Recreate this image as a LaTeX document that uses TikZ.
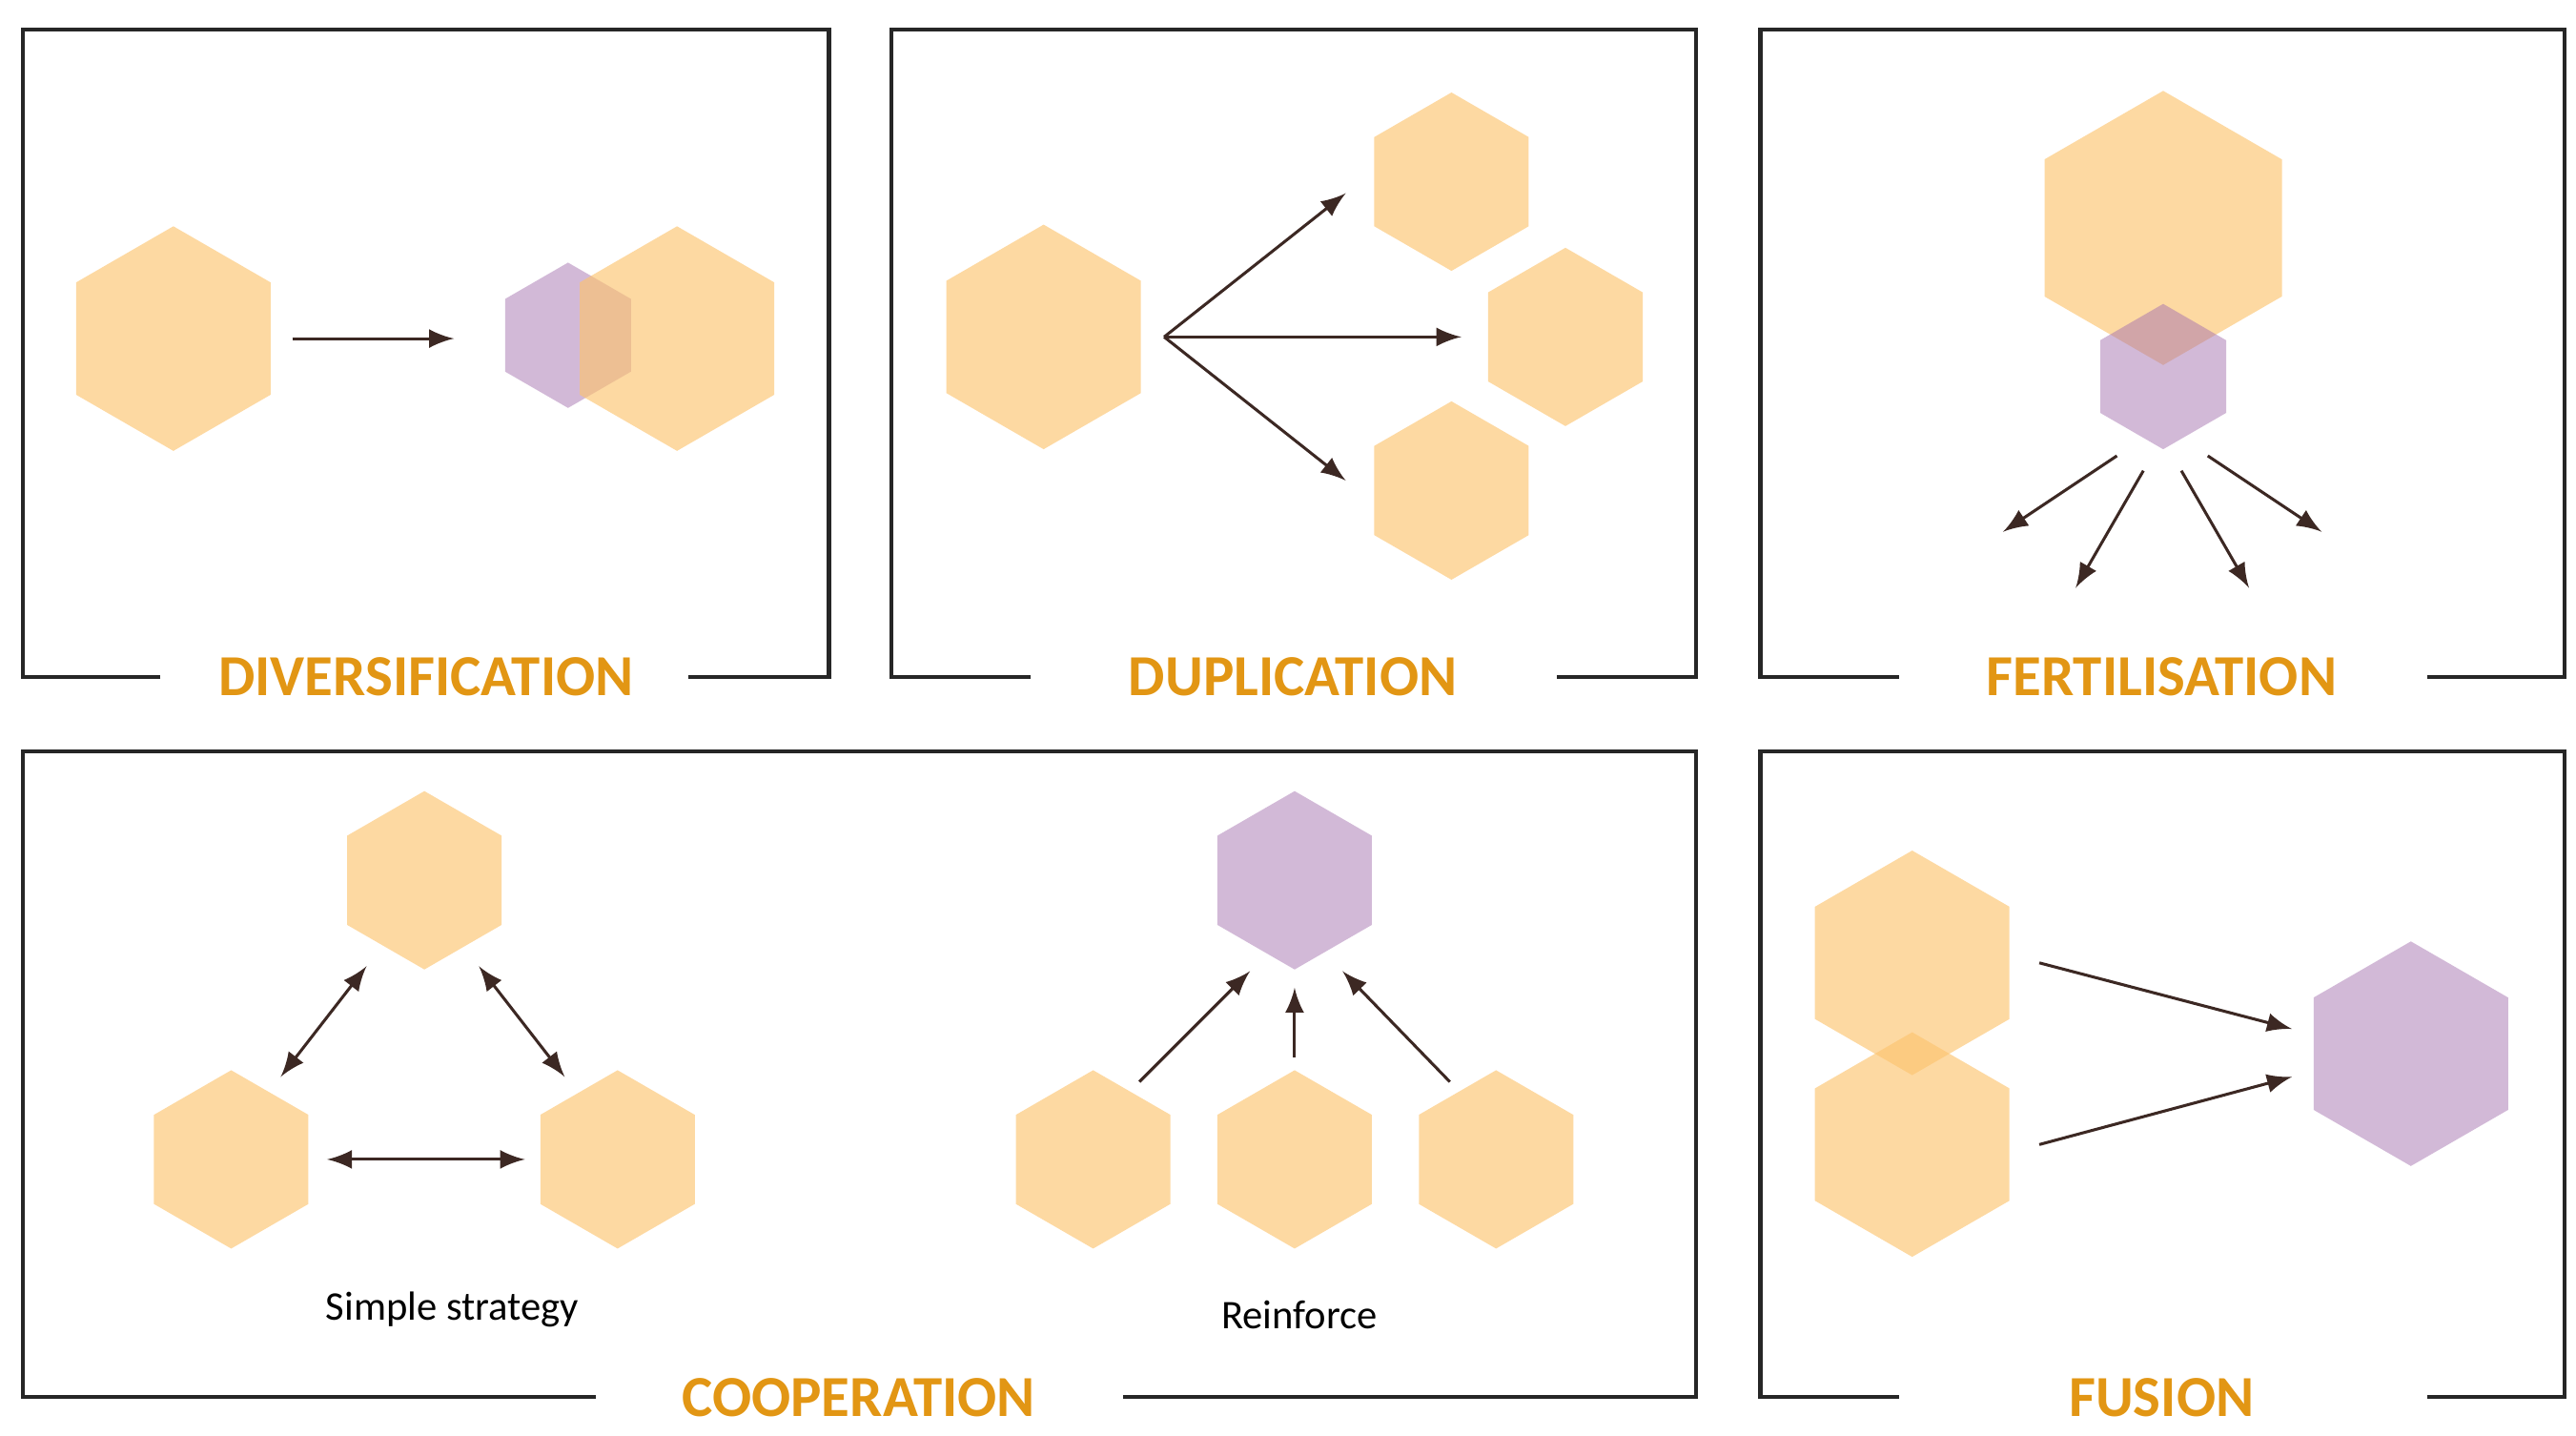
\documentclass[tikz,border=0pt]{standalone}
\usepackage{fontspec}
\setmainfont{Carlito}
\usetikzlibrary{shapes.geometric}
\definecolor{hexorange}{RGB}{252,196,112}
\definecolor{hexpurple}{RGB}{165,115,175}
\definecolor{titleorange}{RGB}{226,150,20}
\definecolor{arrowbrown}{RGB}{60,40,35}

\begin{document}
\begin{tikzpicture}[x=0.01cm, y=-0.01cm,
	hex/.style={regular polygon, regular polygon sides=6, shape border rotate=30, inner sep=0pt, draw=none, minimum size=#1*0.01cm},
	org/.style={hex=#1, fill=hexorange, fill opacity=0.65},
	prp/.style={hex=#1, fill=hexpurple, fill opacity=0.5},
	link/.style={-latex, draw=arrowbrown, line width=0.5pt},
	both/.style={latex-latex, draw=arrowbrown, line width=0.5pt},
	frame/.style={draw=black!85, line width=0.7pt},
	title/.style={text=titleorange, font=\bfseries\fontsize{10}{10}\selectfont},
	caption/.style={font=\fontsize{7}{8}\selectfont}
	]
	\useasboundingbox (0,0) rectangle (1560,869);

	% frames with a gap for the title
	\foreach \xa/\xb/\ya/\yb/\ga/\gb in {14/502/18/410/97/417, 540/1027/18/410/624/943, 1066/1553/18/410/1150/1470, 14/1027/455/846/361/680, 1066/1553/455/846/1150/1470}
		\draw [frame] (\ga,\yb) -- (\xa,\yb) -- (\xa,\ya) -- (\xb,\ya) -- (\xb,\yb) -- (\gb,\yb);

	\node (tdiv) [title] at (258,410) {DIVERSIFICATION};
	\node (tdup) [title] at (783,410) {DUPLICATION};
	\node (tfer) [title] at (1309,410) {FERTILISATION};
	\node (tcoop) [title] at (520,846) {COOPERATION};
	\node (tfus) [title] at (1309,846) {FUSION};

	% diversification
	\node (divsrc) [org=136] at (105,205) {};
	\node (divnew) [prp=88] at (344,203) {};
	\node (divold) [org=136] at (410,205) {};
	\coordinate (diva) at (177,205);
	\coordinate (divb) at (275,205);
	\draw [link] (diva) -- (divb);

	% duplication
	\node (dupsrc) [org=136] at (632,204) {};
	\node (dupa) [org=108] at (879,110) {};
	\node (dupb) [org=108] at (948,204) {};
	\node (dupc) [org=108] at (879,297) {};
	\coordinate (dupo) at (705,204);
	\draw [link] (dupo) -- (815,117);
	\draw [link] (dupo) -- (885,204);
	\draw [link] (dupo) -- (815,291);

	% fertilisation
	\node (ferbig) [org=166] at (1310,138) {};
	\node (ferseed) [prp=88] at (1310,228) {};
	\draw [link] (1282,276) -- (1213,322);
	\draw [link] (1298,285) -- (1257,356);
	\draw [link] (1321,285) -- (1362,356);
	\draw [link] (1337,276) -- (1406,322);

	% cooperation: simple strategy
	\node (cooptop) [org=108] at (257,533) {};
	\node (coopleft) [org=108] at (140,702) {};
	\node (coopright) [org=108] at (374,702) {};
	\draw [both] (222,585) -- (170,652);
	\draw [both] (290,585) -- (342,652);
	\draw [both] (198,702) -- (318,702);
	\node (simple) [caption] at (274,793) {Simple strategy};

	% cooperation: reinforce
	\node (reintop) [prp=108] at (784,533) {};
	\node (reina) [org=108] at (662,702) {};
	\node (reinb) [org=108] at (784,702) {};
	\node (reinc) [org=108] at (906,702) {};
	\draw [link] (690,655) -- (757,588);
	\draw [link] (784,640) -- (784,598);
	\draw [link] (878,655) -- (813,588);
	\node (reinforce) [caption] at (787,796) {Reinforce};

	% fusion
	\node (fusa) [org=136] at (1158,583) {};
	\node (fusb) [org=136] at (1158,693) {};
	\node (fused) [prp=136] at (1460,638) {};
	\draw [link] (1235,583) -- (1388,623);
	\draw [link] (1235,693) -- (1388,652);
\end{tikzpicture}
\end{document}
